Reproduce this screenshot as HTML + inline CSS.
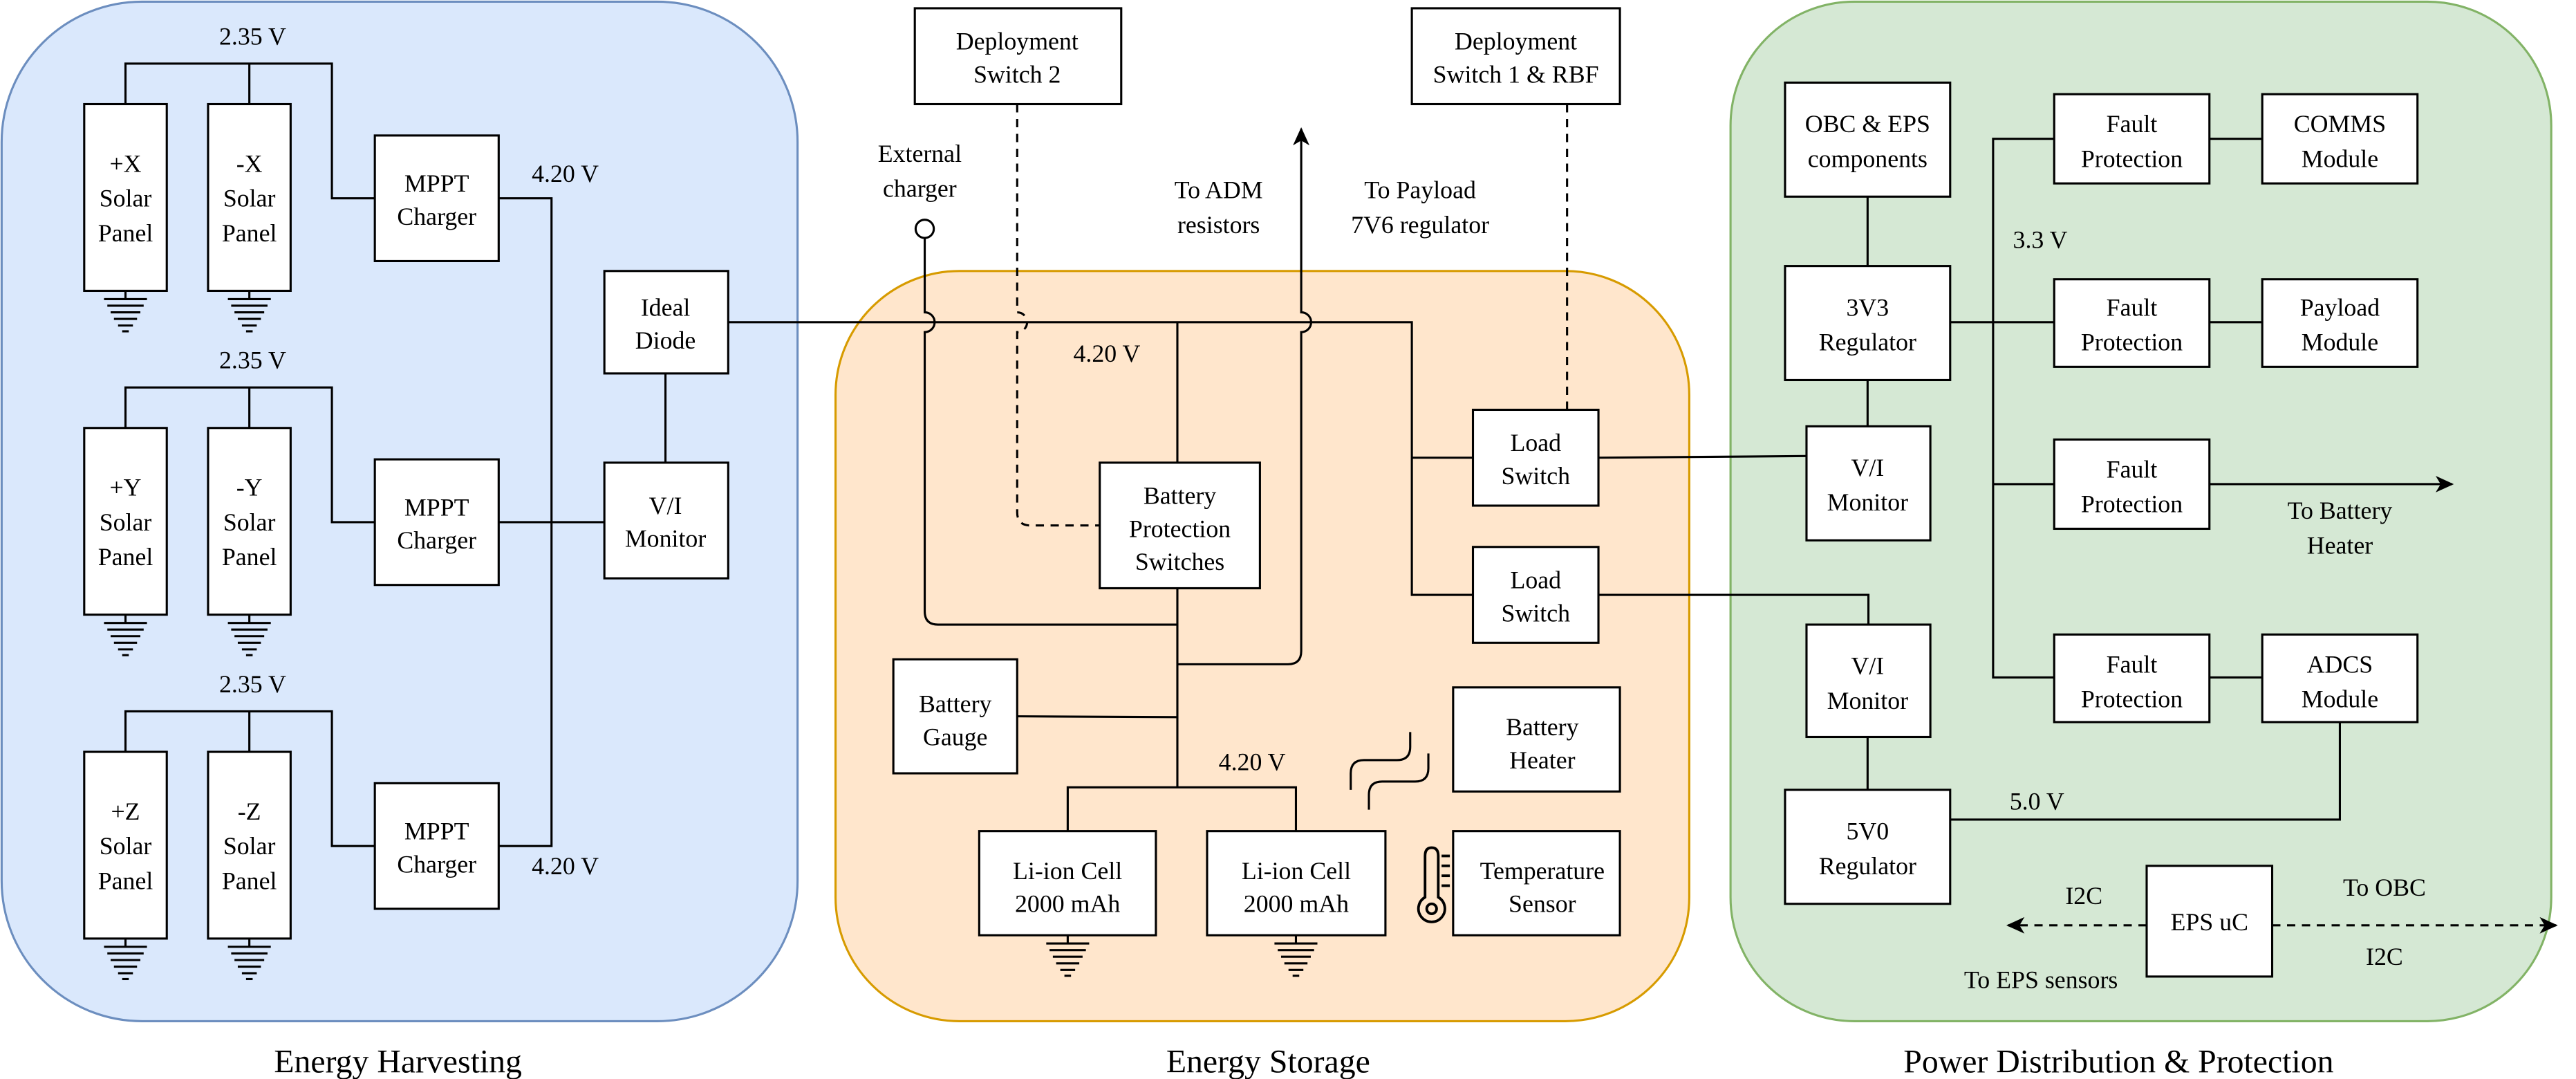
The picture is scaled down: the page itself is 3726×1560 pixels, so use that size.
<!DOCTYPE html>
<html><head><meta charset="utf-8"><style>
html,body{margin:0;padding:0;background:#fff;}
svg{display:block;}
text{font-family:"Liberation Serif",serif;font-size:15px;fill:#000;}
</style></head><body>
<svg width="3726" height="1560" viewBox="0 0 1560 653" preserveAspectRatio="none" xmlns="http://www.w3.org/2000/svg">
<defs>
<marker id="ar" markerWidth="12" markerHeight="10" refX="10" refY="5" orient="auto" markerUnits="userSpaceOnUse">
<path d="M0,0 L11,5 L0,10 L3,5 Z" fill="#000"/>
</marker>
<g id="gnd" stroke="#000" stroke-width="1.3">
<line x1="0" y1="0" x2="0" y2="5"/>
<line x1="-13" y1="5" x2="13" y2="5"/>
<line x1="-11" y1="9" x2="11" y2="9"/>
<line x1="-9" y1="13" x2="9" y2="13"/>
<line x1="-7" y1="17" x2="7" y2="17"/>
<line x1="-4.5" y1="21" x2="4.5" y2="21"/>
<line x1="-2" y1="24.5" x2="2" y2="24.5"/>
</g>
</defs>

<rect x="1" y="1" width="482" height="617" rx="85" fill="#dae8fc" stroke="#6c8ebf" stroke-width="1.3"/>
<rect x="506" y="164" width="517" height="454" rx="75" fill="#ffe6cc" stroke="#d79b00" stroke-width="1.3"/>
<rect x="1048" y="1" width="497" height="617" rx="75" fill="#d5e8d4" stroke="#82b366" stroke-width="1.3"/>

<g text-anchor="middle">
<text x="241" y="649" style="font-size:20px">Energy Harvesting</text>
<text x="768" y="649" style="font-size:20px">Energy Storage</text>
<text x="1283" y="649" style="font-size:20px">Power Distribution &amp; Protection</text>
</g>

<g fill="none" stroke="#000" stroke-width="1.3">
<path d="M76 63 V38.5 H201 V120 H227"/>
<line x1="151" y1="38.5" x2="151" y2="63"/>
<path d="M76 259 V234.5 H201 V316 H227"/>
<line x1="151" y1="234.5" x2="151" y2="259"/>
<path d="M76 455 V430.5 H201 V512 H227"/>
<line x1="151" y1="430.5" x2="151" y2="455"/>
<path d="M302 120 H334 V512 H302"/>
<line x1="302" y1="316" x2="366" y2="316"/>
<line x1="403" y1="226" x2="403" y2="280"/>

<path d="M441 195 H855 V360 H892"/>
<line x1="855" y1="277" x2="892" y2="277"/>
<line x1="713" y1="195" x2="713" y2="280"/>
<path d="M560 144 V189 A6 6 0 0 1 560 201 V370 Q560 378 568 378 H713"/>
<path d="M713 402 H780 Q788 402 788 394 V201 A6 6 0 0 0 788 189 V78" marker-end="url(#ar)"/>
<path d="M616 63 V189 A6 6 0 0 1 616 201 V310 Q616 318 624 318 H666" stroke-dasharray="5,4"/>
<line x1="949" y1="63" x2="949" y2="248" stroke-dasharray="5,4"/>
<line x1="713" y1="356" x2="713" y2="476.5"/>
<line x1="616" y1="433.5" x2="713" y2="434"/>
<path d="M646.6 503 V476.5 H784.8 V503"/>
<!-- wavy -->
<path d="M854 443 V452 Q854 460 846 460 H826 Q818 460 818 468 V478"/>
<path d="M865 456 V465 Q865 473 857 473 H837 Q829 473 829 481 V490"/>

<line x1="968" y1="277" x2="1094" y2="276"/>
<path d="M968 360 H1131.5 V378"/>
<line x1="1131" y1="119" x2="1131" y2="161"/>
<line x1="1131" y1="230" x2="1131" y2="258"/>
<line x1="1131" y1="446" x2="1131" y2="478"/>
<path d="M1244 84 H1207 V410 H1244"/>
<line x1="1181" y1="195" x2="1244" y2="195"/>
<line x1="1207" y1="293" x2="1244" y2="293"/>
<line x1="1338" y1="84" x2="1370" y2="84"/>
<line x1="1338" y1="195" x2="1370" y2="195"/>
<line x1="1338" y1="410" x2="1370" y2="410"/>
<line x1="1338" y1="293" x2="1485" y2="293" marker-end="url(#ar)"/>
<path d="M1417 437 V496 H1181"/>
<line x1="1300" y1="560" x2="1216" y2="560" stroke-dasharray="5,4" marker-end="url(#ar)"/>
<line x1="1376" y1="560" x2="1548" y2="560" stroke-dasharray="5,4" marker-end="url(#ar)"/>

<path d="M863 518 Q863 513 867 513 Q871 513 871 518 V543 A8 8 0 1 1 863 543 Z" stroke-width="1.6"/>
<circle cx="867" cy="550" r="3" stroke-width="1.6"/>
<line x1="873" y1="518" x2="878" y2="518" stroke-width="1.6"/>
<line x1="873" y1="524" x2="878" y2="524" stroke-width="1.6"/>
<line x1="873" y1="530" x2="878" y2="530" stroke-width="1.6"/>
<line x1="873" y1="536" x2="878" y2="536" stroke-width="1.6"/>
</g>

<use href="#gnd" x="76" y="176"/><use href="#gnd" x="151" y="176"/>
<use href="#gnd" x="76" y="372"/><use href="#gnd" x="151" y="372"/>
<use href="#gnd" x="76" y="568"/><use href="#gnd" x="151" y="568"/>
<use href="#gnd" x="646.6" y="566"/><use href="#gnd" x="784.8" y="566"/>
<circle cx="560" cy="138.5" r="5.5" fill="#fff" stroke="#000" stroke-width="1.3"/>

<g fill="#fff" stroke="#000" stroke-width="1.3">
<rect x="51" y="63" width="50" height="113"/><rect x="126" y="63" width="50" height="113"/>
<rect x="51" y="259" width="50" height="113"/><rect x="126" y="259" width="50" height="113"/>
<rect x="51" y="455" width="50" height="113"/><rect x="126" y="455" width="50" height="113"/>
<rect x="227" y="82" width="75" height="76"/>
<rect x="227" y="278" width="75" height="76"/>
<rect x="227" y="474" width="75" height="76"/>
<rect x="366" y="164" width="75" height="62"/>
<rect x="366" y="280" width="75" height="70"/>
<rect x="554" y="5" width="125" height="58"/>
<rect x="855" y="5" width="126" height="58"/>
<rect x="666" y="280" width="97" height="76"/>
<rect x="892" y="248" width="76" height="58"/>
<rect x="892" y="331" width="76" height="58"/>
<rect x="541" y="399" width="75" height="69"/>
<rect x="593" y="503" width="107" height="63"/>
<rect x="731" y="503" width="108" height="63"/>
<rect x="880" y="416" width="101" height="63"/>
<rect x="880" y="503" width="101" height="63"/>
<rect x="1081" y="50" width="100" height="69"/>
<rect x="1081" y="161" width="100" height="69"/>
<rect x="1094" y="258" width="75" height="69"/>
<rect x="1094" y="378" width="75" height="68"/>
<rect x="1081" y="478" width="100" height="69"/>
<rect x="1244" y="57" width="94" height="54"/>
<rect x="1244" y="169" width="94" height="53"/>
<rect x="1244" y="266" width="94" height="54"/>
<rect x="1244" y="384" width="94" height="53"/>
<rect x="1370" y="57" width="94" height="54"/>
<rect x="1370" y="169" width="94" height="53"/>
<rect x="1370" y="384" width="94" height="53"/>
<rect x="1300" y="524" width="76" height="67"/>
</g>

<g text-anchor="middle">
<text x="76" y="104">+X</text><text x="76" y="125">Solar</text><text x="76" y="146">Panel</text>
<text x="151" y="104">-X</text><text x="151" y="125">Solar</text><text x="151" y="146">Panel</text>
<text x="76" y="300">+Y</text><text x="76" y="321">Solar</text><text x="76" y="342">Panel</text>
<text x="151" y="300">-Y</text><text x="151" y="321">Solar</text><text x="151" y="342">Panel</text>
<text x="76" y="496">+Z</text><text x="76" y="517">Solar</text><text x="76" y="538">Panel</text>
<text x="151" y="496">-Z</text><text x="151" y="517">Solar</text><text x="151" y="538">Panel</text>
<text x="153" y="27">2.35 V</text><text x="153" y="223">2.35 V</text><text x="153" y="419">2.35 V</text>
<text x="264.5" y="116">MPPT</text><text x="264.5" y="136">Charger</text>
<text x="264.5" y="312">MPPT</text><text x="264.5" y="332">Charger</text>
<text x="264.5" y="508">MPPT</text><text x="264.5" y="528">Charger</text>
<text x="403" y="191">Ideal</text><text x="403" y="211">Diode</text>
<text x="403" y="311">V/I</text><text x="403" y="331">Monitor</text>
<text x="616" y="30">Deployment</text><text x="616" y="50">Switch 2</text>
<text x="918" y="30">Deployment</text><text x="918" y="50">Switch 1 &amp; RBF</text>
<text x="557" y="98">External</text><text x="557" y="119">charger</text>
<text x="738" y="120">To ADM</text><text x="738" y="141">resistors</text>
<text x="860" y="120">To Payload</text><text x="860" y="141">7V6 regulator</text>
<text x="714.5" y="305">Battery</text><text x="714.5" y="325">Protection</text><text x="714.5" y="345">Switches</text>
<text x="930" y="273">Load</text><text x="930" y="293">Switch</text>
<text x="930" y="356">Load</text><text x="930" y="376">Switch</text>
<text x="578.5" y="431">Battery</text><text x="578.5" y="451">Gauge</text>
<text x="646.5" y="532">Li-ion Cell</text><text x="646.5" y="552">2000 mAh</text>
<text x="785" y="532">Li-ion Cell</text><text x="785" y="552">2000 mAh</text>
<text x="934" y="445">Battery</text><text x="934" y="465">Heater</text>
<text x="934" y="532">Temperature</text><text x="934" y="552">Sensor</text>
<text x="1131" y="80">OBC &amp; EPS</text><text x="1131" y="101">components</text>
<text x="1131" y="191">3V3</text><text x="1131" y="212">Regulator</text>
<text x="1131" y="288">V/I</text><text x="1131" y="309">Monitor</text>
<text x="1131" y="408">V/I</text><text x="1131" y="429">Monitor</text>
<text x="1131" y="508">5V0</text><text x="1131" y="529">Regulator</text>
<text x="1291" y="80">Fault</text><text x="1291" y="101">Protection</text>
<text x="1291" y="191">Fault</text><text x="1291" y="212">Protection</text>
<text x="1291" y="289">Fault</text><text x="1291" y="310">Protection</text>
<text x="1291" y="407">Fault</text><text x="1291" y="428">Protection</text>
<text x="1417" y="80">COMMS</text><text x="1417" y="101">Module</text>
<text x="1417" y="191">Payload</text><text x="1417" y="212">Module</text>
<text x="1417" y="407">ADCS</text><text x="1417" y="428">Module</text>
<text x="1417" y="314">To Battery</text><text x="1417" y="335">Heater</text>
<text x="1338" y="563">EPS uC</text>
<text x="1262" y="547">I2C</text>
<text x="1236" y="598">To EPS sensors</text>
<text x="1444" y="542">To OBC</text>
<text x="1444" y="584">I2C</text>
</g>
<g>
<text x="322" y="110">4.20 V</text>
<text x="322" y="529">4.20 V</text>
<text x="650" y="219">4.20 V</text>
<text x="738" y="466">4.20 V</text>
<text x="1219" y="150">3.3 V</text>
<text x="1217" y="490">5.0 V</text>
</g>
</svg>
</body></html>
